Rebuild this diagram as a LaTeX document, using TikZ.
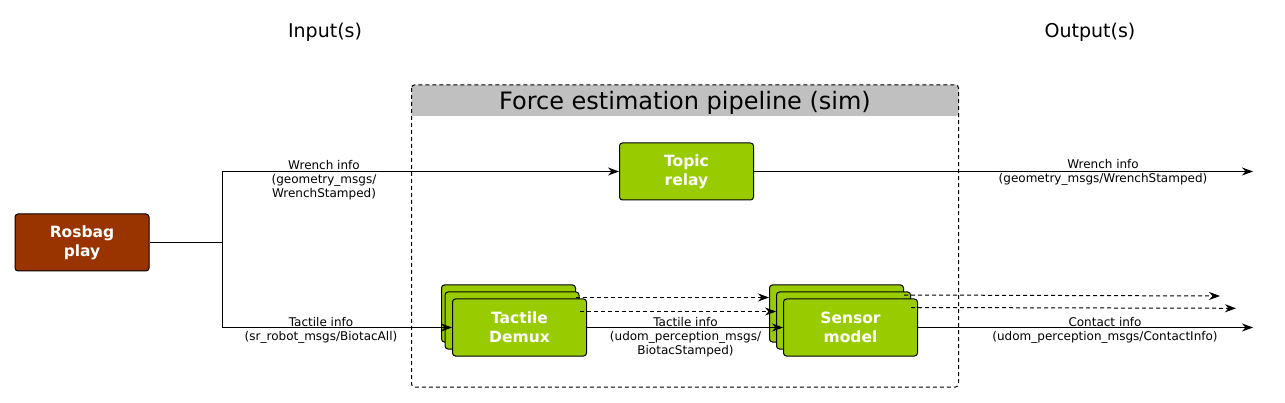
\documentclass[tikz,border=0pt]{standalone}
\usepackage{fontspec}
\setmainfont{DejaVu Sans}
\usetikzlibrary{arrows.meta}
\definecolor{rosbrown}{HTML}{993300}
\definecolor{nodegreen}{HTML}{99CC00}
\definecolor{headgray}{HTML}{C0C0C0}
\tikzset{
  procbox/.style={draw=black, line width=1pt, rounded corners=3pt, fill=nodegreen,
    text=white, font=\bfseries\fontsize{15.5}{19}\selectfont, align=center,
    minimum width=134pt, minimum height=57pt, inner sep=0pt},
  srcbox/.style={procbox, fill=rosbrown},
  lbl/.style={font=\fontsize{12}{14}\selectfont, align=center, inner sep=0pt},
  hdr/.style={font=\fontsize{19}{22}\selectfont, inner sep=0pt, anchor=base},
  conn/.style={line width=1pt, draw=black},
  arr/.style={conn, -{Stealth[length=11pt,width=8pt,inset=3.5pt]}},
  darr/.style={arr, dash pattern=on 4pt off 3pt},
}
\begin{document}
\begin{tikzpicture}[x=1pt,y=-1pt]
\useasboundingbox (0,0) rectangle (1285,403);
% headers
\node[hdr] (inp) at (325,37.3) {Input(s)};
\node[hdr] (outp) at (1090,37.3) {Output(s)};
% pipeline container
\fill[headgray, rounded corners=3pt] (411.5,116) -- (411.5,85) -- (958.5,85) -- (958.5,116) [sharp corners] -- cycle;
\draw[line width=1pt, dash pattern=on 4pt off 3pt, rounded corners=3pt] (411.5,85) rectangle (958.5,387);
\node[font=\fontsize{24}{28}\selectfont, inner sep=0pt, anchor=base] (ptitle) at (685,109.3) {Force estimation pipeline (sim)};
% nodes
\node[srcbox] (rosbag) at (82,242.5) {Rosbag\\play};
\node[procbox] (topic) at (686.5,171.5) {Topic\\relay};
\node[procbox] (td3) at (508.5,313.5) {};
\node[procbox] (td2) at (512,320.5) {};
\node[procbox] (td1) at (519.5,327.5) {Tactile\\Demux};
\node[procbox] (sm3) at (836.5,313.5) {};
\node[procbox] (sm2) at (843.5,320.5) {};
\node[procbox] (sm1) at (850.5,327.5) {Sensor\\model};
% coordinates
\coordinate (j) at (222,242.5);
\coordinate (o1) at (1253,171.5);
\coordinate (o2) at (1220,296);
\coordinate (o3) at (1236,308.3);
\coordinate (o4) at (1253,327.5);
% connectors
\draw[conn] (rosbag.east) -- (j);
\draw[arr] (j) |- (topic.west);
\draw[arr] (j) |- (td1.west);
\draw[arr] (topic.east) -- (o1);
\draw[darr] ([yshift=-13pt]td3.north east) -- ([yshift=-13pt]sm3.north west);
\draw[darr] ([yshift=-20pt]td2.north east) -- ([yshift=-20pt]sm2.north west);
\draw[arr] (td1.east) -- (sm1.west);
\draw[darr] ([yshift=-10.5pt]sm3.north east) -- (o2);
\draw[darr] ([yshift=-16pt]sm2.north east) -- (o3);
\draw[arr] (sm1.east) -- (o4);
% labels
\node[lbl] (l1) at (324,180) {Wrench info\\(geometry\_msgs/\\WrenchStamped)};
\node[lbl] (l2) at (321,330) {Tactile info\\(sr\_robot\_msgs/BiotacAll)};
\node[lbl] (l3) at (1103,172.8) {Wrench info\\(geometry\_msgs/WrenchStamped)};
\node[lbl] (l4) at (685.5,337) {Tactile info\\(udom\_perception\_msgs/\\BiotacStamped)};
\node[lbl] (l5) at (1105,330) {Contact info\\(udom\_perception\_msgs/ContactInfo)};
\end{tikzpicture}
\end{document}
